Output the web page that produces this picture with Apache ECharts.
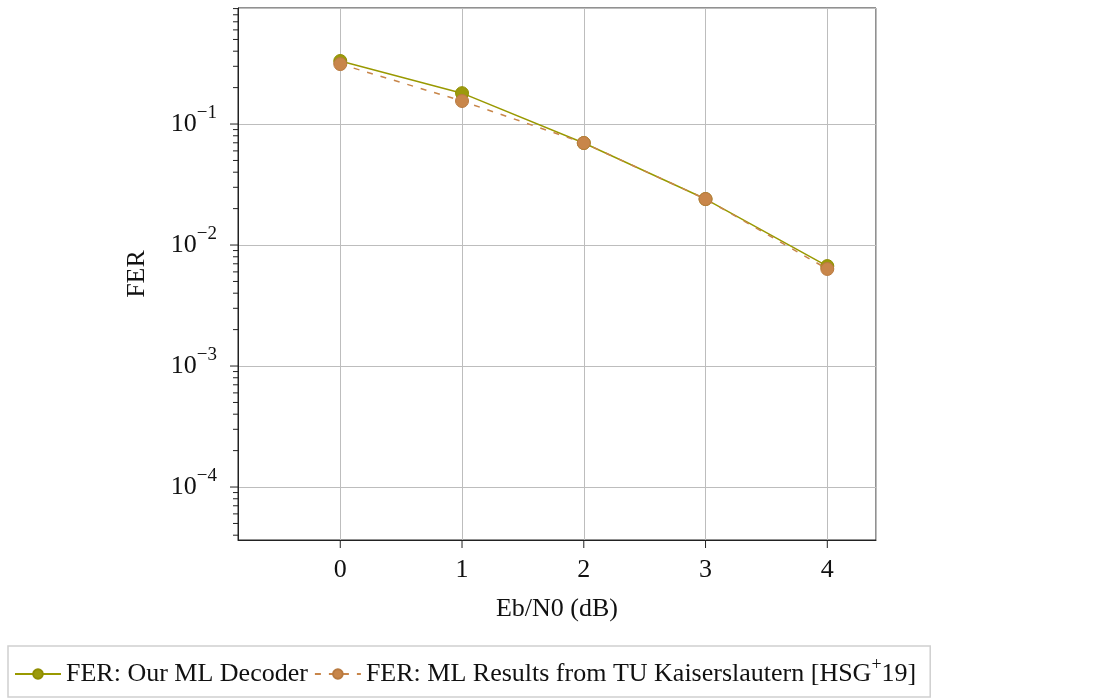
<!DOCTYPE html>
<html>
<head>
<meta charset="utf-8">
<script src="https://cdn.jsdelivr.net/npm/echarts@6/dist/echarts.min.js"></script>
<style>
html,body{margin:0;padding:0;background:#fff;}
#chart{width:1107px;height:698px;}
</style>
</head>
<body>
<div id="chart"></div>
<script>
const ebN0 = [0, 1, 2, 3, 4];
const ferOurs = [0.332, 0.180, 0.0697, 0.0240, 0.0067];
const ferTUK = [0.313, 0.155, 0.0697, 0.0240, 0.00634];
const seriesNames = ['FER: Our ML Decoder', 'FER: ML Results from TU Kaiserslautern [HSG+19]'];
const xTickValues = [0, 1, 2, 3, 4];
const yMajorTickValues = [1e-4, 1e-3, 1e-2, 1e-1];
const xMin = -0.84, xMax = 4.4;
const yMin = 3.65e-5, yMax = 0.91;
const minorTickValues = [];
for (let e = -5; e <= 0; e++) {
  for (let m = 2; m <= 9; m++) {
    const v = m * Math.pow(10, e);
    if (v > yMin && v < yMax) minorTickValues.push(v);
  }
}
const FONT = 'Liberation Serif';
const tickItems = []
  .concat(minorTickValues.map(v => [xMin, v, 0, 5]))
  .concat(yMajorTickValues.map(v => [xMin, v, 0, 8]))
  .concat(xTickValues.map(v => [v, yMin, 1, 8]));
const chart = echarts.init(document.getElementById('chart'));
chart.setOption({
  animation: false,
  textStyle: {fontFamily: FONT},
  grid: {left: 238, top: 8, right: 231, bottom: 158, show: true, borderColor: '#222', borderWidth: 1},
  legend: {
    left: 8, bottom: 1,
    data: [{name: seriesNames[0]}, {name: seriesNames[1]}],
    formatter: function (n) { return n === seriesNames[0] ? n : 'FER: ML Results from TU Kaiserslautern [HSG{sup|+}19]'; },
    itemWidth: 46, itemHeight: 12, itemGap: 6,
    padding: [10, 14, 10, 6],
    borderColor: '#d0d0d0', borderWidth: 1.5,
    textStyle: {fontFamily: FONT, fontSize: 26, color: '#111',
      rich: {sup: {fontSize: 18, padding: [0, 0, 18, 0], fontFamily: FONT, color: '#111'}}}
  },
  xAxis: {
    type: 'value', min: xMin, max: xMax,
    name: 'Eb/N0 (dB)', nameLocation: 'middle', nameGap: 56,
    nameTextStyle: {fontFamily: FONT, fontSize: 26, color: '#111'},
    axisLine: {show: true, onZero: false, lineStyle: {color: '#222'}},
    axisTick: {show: false},
    axisLabel: {margin: 17, fontFamily: FONT, fontSize: 26, color: '#111',
      formatter: function (v) { return Math.abs(v - Math.round(v)) < 1e-6 ? String(Math.round(v)) : ''; }},
    splitLine: {show: true, lineStyle: {color: '#bdbdbd', width: 1}}
  },
  yAxis: {
    type: 'log', logBase: 10, min: yMin, max: yMax,
    name: 'FER', nameLocation: 'middle', nameGap: 88, nameRotate: 90,
    nameTextStyle: {fontFamily: FONT, fontSize: 26, color: '#111'},
    axisLine: {show: true, onZero: false, lineStyle: {color: '#222'}},
    axisTick: {show: false},
    axisLabel: {margin: 21, fontFamily: FONT, fontSize: 26, color: '#111',
      formatter: function (v) {
        const l = Math.log10(v);
        if (Math.abs(l - Math.round(l)) > 1e-6) return '';
        return '10{sup|\u2212' + Math.abs(Math.round(l)) + '}';
      },
      rich: {sup: {fontSize: 19, padding: [0, 0, 22, 0], fontFamily: FONT, color: '#111'}}
    },
    splitLine: {show: true, lineStyle: {color: '#bdbdbd', width: 1}}
  },
  series: [
    {
      name: 'axisTicks', type: 'custom', silent: true, clip: false,
      data: tickItems,
      renderItem: function (params, api) {
        const p = api.coord([api.value(0), api.value(1)]);
        const len = api.value(3);
        const shape = api.value(2) === 0
          ? {x1: p[0] - len, y1: p[1], x2: p[0], y2: p[1]}
          : {x1: p[0], y1: p[1], x2: p[0], y2: p[1] + len};
        return {type: 'line', shape: shape, style: {stroke: '#222', lineWidth: 1}};
      },
      z: 1
    },
    {
      name: seriesNames[0], type: 'line',
      data: ebN0.map((x, i) => [x, ferOurs[i]]),
      symbol: 'circle', symbolSize: 13,
      lineStyle: {color: '#999900', width: 1.5},
      itemStyle: {color: '#9c9a0c', borderColor: '#8f8d00', borderWidth: 1},
      z: 3
    },
    {
      name: seriesNames[1], type: 'line',
      data: ebN0.map((x, i) => [x, ferTUK[i]]),
      symbol: 'circle', symbolSize: 13,
      lineStyle: {color: '#c8864a', width: 1.5, type: [6, 8]},
      itemStyle: {color: '#c8864a', borderColor: '#b87a40', borderWidth: 1},
      z: 4
    }
  ]
});
</script>
</body>
</html>
